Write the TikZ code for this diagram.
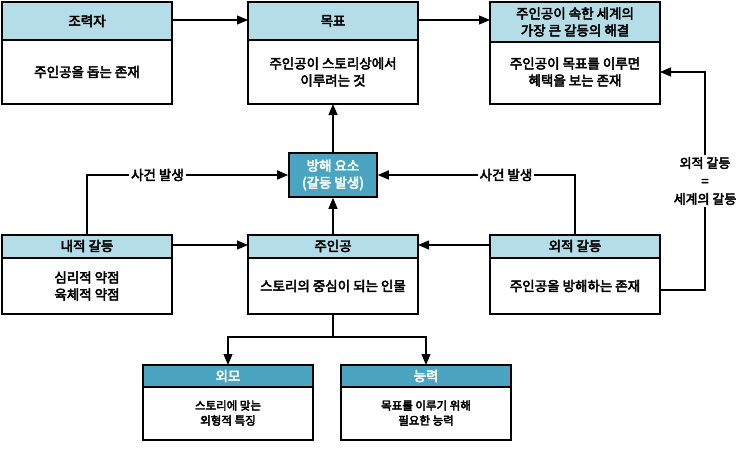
\documentclass[tikz,border=0pt]{standalone}
\usepackage{fontspec}
\setmainfont{Noto Sans CJK KR}[BoldFont={Noto Sans CJK KR},BoldFeatures={FakeBold=3.5}]
\usetikzlibrary{arrows.meta}
\definecolor{hl}{HTML}{B5DDE8}
\definecolor{hd}{HTML}{4BA4C0}
\begin{document}
\begin{tikzpicture}[x=1pt,y=-1pt,
  txt/.style={font=\fontsize{13.5}{17}\selectfont\bfseries,align=center},
  bx/.style={draw,line width=1.6pt},
  ar/.style={line width=1.2pt,-{Triangle[length=11pt,width=9pt]}},
  lb/.style={txt,fill=white,inner sep=2pt}]
\useasboundingbox (0,0) rectangle (748,450);
\tikzset{every node/.style={txt}}
% top row
\fill[hl] (2,2) rectangle (172,40); \draw[bx] (2,2) rectangle (172,104); \draw[line width=1.6pt] (2,40)--(172,40);
\node (h1) at (87,21) {조력자};
\node (b1) at (87,72) {주인공을 돕는 존재};
\fill[hl] (248,2) rectangle (418,40); \draw[bx] (248,2) rectangle (418,104); \draw[line width=1.6pt] (248,40)--(418,40);
\node (h2) at (333,21) {목표};
\node (b2) at (333,72) {주인공이 스토리상에서\\이루려는 것};
\fill[hl] (490,2) rectangle (660,42); \draw[bx] (490,2) rectangle (660,104); \draw[line width=1.6pt] (490,42)--(660,42);
\node (h3) at (575,22) {주인공이 속한 세계의\\가장 큰 갈등의 해결};
\node (b3) at (575,72) {주인공이 목표를 이루면\\혜택을 보는 존재};
% obstacle
\node[bx,fill=hd,text=white,minimum width=88pt,minimum height=44pt,inner sep=0pt] (ob) at (333,175) {방해 요소\\(갈등 발생)};
% middle row
\fill[hl] (2,235) rectangle (172,258); \draw[bx] (2,235) rectangle (172,314); \draw[line width=1.6pt] (2,258)--(172,258);
\node (h4) at (87,246) {내적 갈등};
\node (b4) at (87,286) {심리적 약점\\육체적 약점};
\fill[hl] (248,235) rectangle (418,258); \draw[bx] (248,235) rectangle (418,314); \draw[line width=1.6pt] (248,258)--(418,258);
\node (h5) at (333,246) {주인공};
\node (b5) at (333,286) {스토리의 중심이 되는 인물};
\fill[hl] (490,235) rectangle (660,258); \draw[bx] (490,235) rectangle (660,314); \draw[line width=1.6pt] (490,258)--(660,258);
\node (h6) at (575,246) {외적 갈등};
\node (b6) at (575,286) {주인공을 방해하는 존재};
% bottom row
\fill[hd] (143,365) rectangle (313,387); \draw[bx] (143,365) rectangle (313,440); \draw[line width=1.6pt] (143,387)--(313,387);
\node[text=white] (h7) at (228,376) {외모};
\node[font=\fontsize{11.5}{15}\selectfont\bfseries] (b7) at (228,413) {스토리에 맞는\\외형적 특징};
\fill[hd] (341,365) rectangle (511,387); \draw[bx] (341,365) rectangle (511,440); \draw[line width=1.6pt] (341,387)--(511,387);
\node[text=white] (h8) at (426,376) {능력};
\node[font=\fontsize{11.5}{15}\selectfont\bfseries] (b8) at (426,413) {목표를 이루기 위해\\필요한 능력};
% connectors
\draw[ar] (172,20) -- (248,20);
\draw[ar] (418,20) -- (490,20);
\draw[ar] (ob.north) -- (333,104);
\draw[ar] (333,235) -- (ob.south);
\draw[ar] (87,235) -- (87,175) -- (ob.west) node[lb,pos=0.35] {사건 발생};
\draw[ar] (575,235) -- (575,175) -- (ob.east) node[lb,pos=0.35] {사건 발생};
\draw[ar] (172,245) -- (248,245);
\draw[ar] (490,245) -- (418,245);
\draw[ar] (660,290) -- (705,290) -- (705,72) node[lb,pos=0.5,font=\fontsize{13}{18}\selectfont\bfseries] {외적 갈등\\=\\세계의 갈등} -- (660,72);
\draw[line width=1.2pt] (333,314) -- (333,337);
\draw[line width=1.2pt] (228,337) -- (426,337);
\draw[ar] (228,336.4) -- (228,365);
\draw[ar] (426,336.4) -- (426,365);
\end{tikzpicture}
\end{document}
